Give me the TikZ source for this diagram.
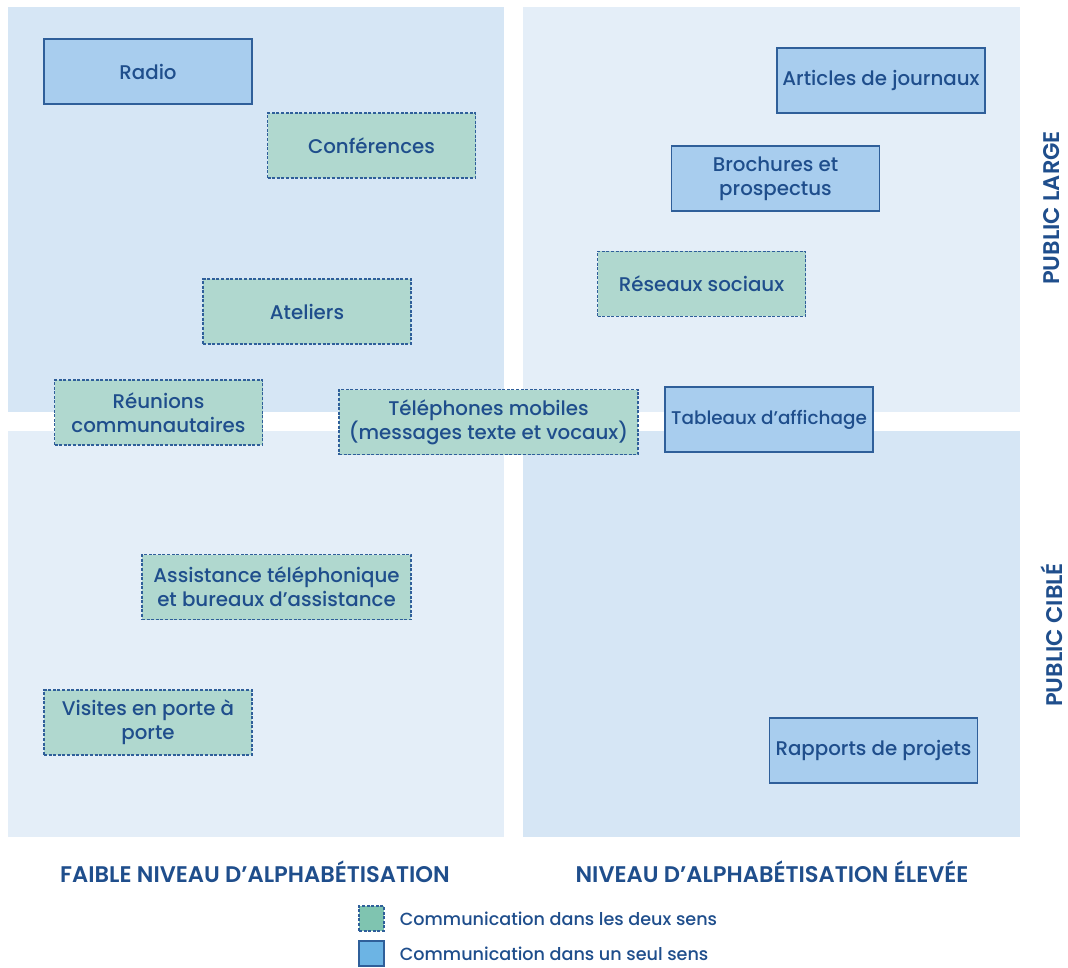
\documentclass[tikz,border=0pt]{standalone}
\usepackage{fontspec}
\setmainfont{Poppins}[UprightFont=* Medium, BoldFont=* SemiBold]
\usetikzlibrary{positioning}
\definecolor{txtblue}{HTML}{1F4E8C}
\definecolor{edgeblue}{HTML}{2F5F9A}
\definecolor{quaddark}{HTML}{D6E6F5}
\definecolor{quadlight}{HTML}{E4EEF8}
\definecolor{onefill}{HTML}{A8CDEE}
\definecolor{twofill}{HTML}{B0D8CF}
\definecolor{legtwo}{HTML}{7FC4B0}
\definecolor{legone}{HTML}{6CB4E4}
\tikzset{
  onebox/.style={draw=edgeblue, line width=0.8pt, fill=onefill, text=txtblue,
    minimum width=104pt, minimum height=32.5pt, align=center,
    font=\fontsize{9.9}{12}\selectfont, inner sep=1pt},
  twobox/.style={onebox, fill=twofill, dash pattern=on 1.5pt off 0.8pt},
  axislabel/.style={text=txtblue, font=\fontsize{11.3}{12}\selectfont\bfseries},
  legtext/.style={text=txtblue, anchor=west, font=\fontsize{8.8}{10}\selectfont}
}
\begin{document}
\begin{tikzpicture}[x=0.5pt,y=-0.5pt]
   \useasboundingbox[fill=white] (0,0) rectangle (1068,967);

   % quadrants
   \fill[quaddark]  (8,7)   rectangle (504,412);
   \fill[quadlight] (523,7) rectangle (1020,412);
   \fill[quadlight] (8,431) rectangle (504,837);
   \fill[quaddark]  (523,431) rectangle (1020,837);

   % one-way
   \node[onebox] (radio) at (148,71.5) {Radio};
   \node[onebox] (journaux) at (881,80.5) {Articles de journaux};
   \node[onebox] (brochures) at (775.5,178.5) {Brochures et\\prospectus};
   \node[onebox, font=\fontsize{9.2}{12}\selectfont] (affichage) at (769,419.5) {Tableaux d'affichage};
   \node[onebox] (rapports) at (873.5,750.5) {Rapports de projets};

   % two-way
   \node[twobox] (conf) at (371.5,145.5) {Conférences};
   \node[twobox] (ateliers) at (307,311.5) {Ateliers};
   \node[twobox] (reunions) at (158.5,412.5) {Réunions\\communautaires};
   \node[twobox, minimum width=149.5pt] (mobiles) at (488.5,422) {Téléphones mobiles\\(messages texte et vocaux)};
   \node[twobox, minimum width=134.5pt] (assist) at (276.5,587) {Assistance téléphonique\\et bureaux d'assistance};
   \node[twobox] (visites) at (148,722.5) {Visites en porte à\\porte};
   \node[twobox] (reseaux) at (701.5,284) {Réseaux sociaux};

   % axes
   \node[axislabel] (faible) at (255,872) {FAIBLE NIVEAU D'ALPHABÉTISATION};
   \node[axislabel] (elevee) at (772,872) {NIVEAU D'ALPHABÉTISATION ÉLEVÉE};
   \node[axislabel, rotate=90] (large) at (1052,208) {PUBLIC LARGE};
   \node[axislabel, rotate=90] (cible) at (1052,635) {PUBLIC CIBLÉ};

   % legend
   \node[draw=edgeblue, fill=legtwo, line width=0.8pt, dash pattern=on 1.5pt off 0.8pt,
     minimum size=12.5pt, inner sep=0pt] (legdeux) at (371.5,918.5) {};
   \node[legtext, right=4pt of legdeux] (txtdeux) {Communication dans les deux sens};
   \node[draw=edgeblue, fill=legone, line width=0.8pt,
     minimum size=12.5pt, inner sep=0pt] (legun) at (371.5,953.5) {};
   \node[legtext, right=4pt of legun] (txtun) {Communication dans un seul sens};
\end{tikzpicture}
\end{document}
